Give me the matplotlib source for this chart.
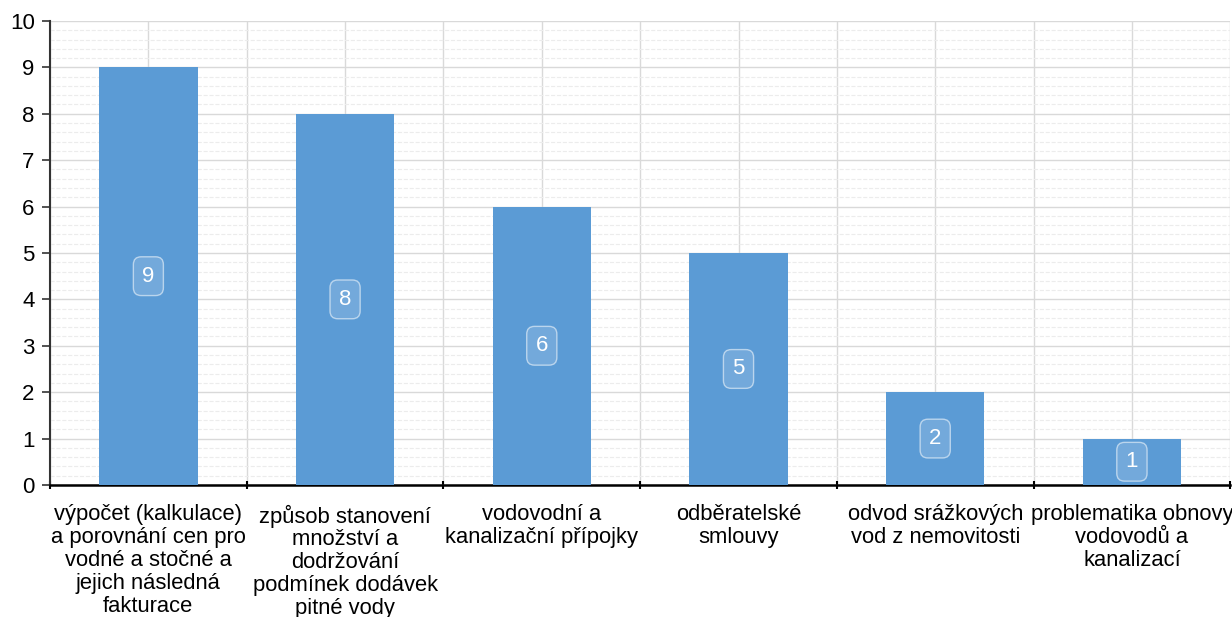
import matplotlib.pyplot as plt
import numpy as np

categories = [
    "výpočet (kalkulace)\na porovnání cen pro\nvodné a stočné a\njejich následná\nfakturace",
    "způsob stanovení\nmnožství a\ndodržování\npodmínek dodávek\npitné vody",
    "vodovodní a\nkanalizační přípojky",
    "odběratelské\nsmlouvy",
    "odvod srážkových\nvod z nemovitosti",
    "problematika obnovy\nvodovodů a\nkanalizací",
]
values = [9, 8, 6, 5, 2, 1]

plt.rcParams['font.family'] = ['Liberation Sans', 'DejaVu Sans']

fig = plt.figure(figsize=(12.32, 6.17), dpi=100)
ax = fig.add_axes([0.0406, 0.214, 0.958, 0.752])

x = np.arange(len(values))
ax.bar(x, values, width=0.5, color='#5b9bd5', zorder=3)

for xi, v in zip(x, values):
    ax.text(xi, v / 2, str(v), ha='center', va='center', fontsize=16, color='white', zorder=4,
            bbox=dict(boxstyle='round,pad=0.4,rounding_size=0.35', fc=(1, 1, 1, 0.15),
                      ec=(1, 1, 1, 0.55), lw=1))

ax.set_xlim(-0.5, len(values) - 0.5)
ax.set_ylim(0, 10)
ax.set_yticks(range(0, 11))
ax.set_yticks(np.arange(0, 10.01, 0.2), minor=True)
ax.tick_params(axis='y', which='minor', length=0)
ax.tick_params(axis='y', which='major', labelsize=16, length=6, width=1.2, color='#333333', pad=5)

# vertical grid at centres and boundaries
for xv in np.arange(-0.5, len(values), 0.5):
    ax.axvline(xv, color='#d9d9d9', lw=1, zorder=1)
ax.grid(axis='y', which='major', color='#d9d9d9', lw=1, zorder=1)
ax.grid(axis='y', which='minor', color='#ececec', lw=0.8, ls='--', zorder=1)

ax.set_xticks(x)
ax.set_xticklabels(categories, fontsize=15.8, linespacing=1.12)
ax.tick_params(axis='x', which='major', length=0, pad=14)
ax.set_xticks(np.arange(-0.5, len(values), 1), minor=True)
ax.tick_params(axis='x', which='minor', length=6, width=1.5, direction='inout', color='black')

for s in ['top', 'right']:
    ax.spines[s].set_visible(False)
ax.spines['bottom'].set_linewidth(1.8)
ax.spines['bottom'].set_color('black')
ax.spines['left'].set_linewidth(1.5)
ax.spines['left'].set_color('#333333')

fig.savefig('out.png', dpi=100)
